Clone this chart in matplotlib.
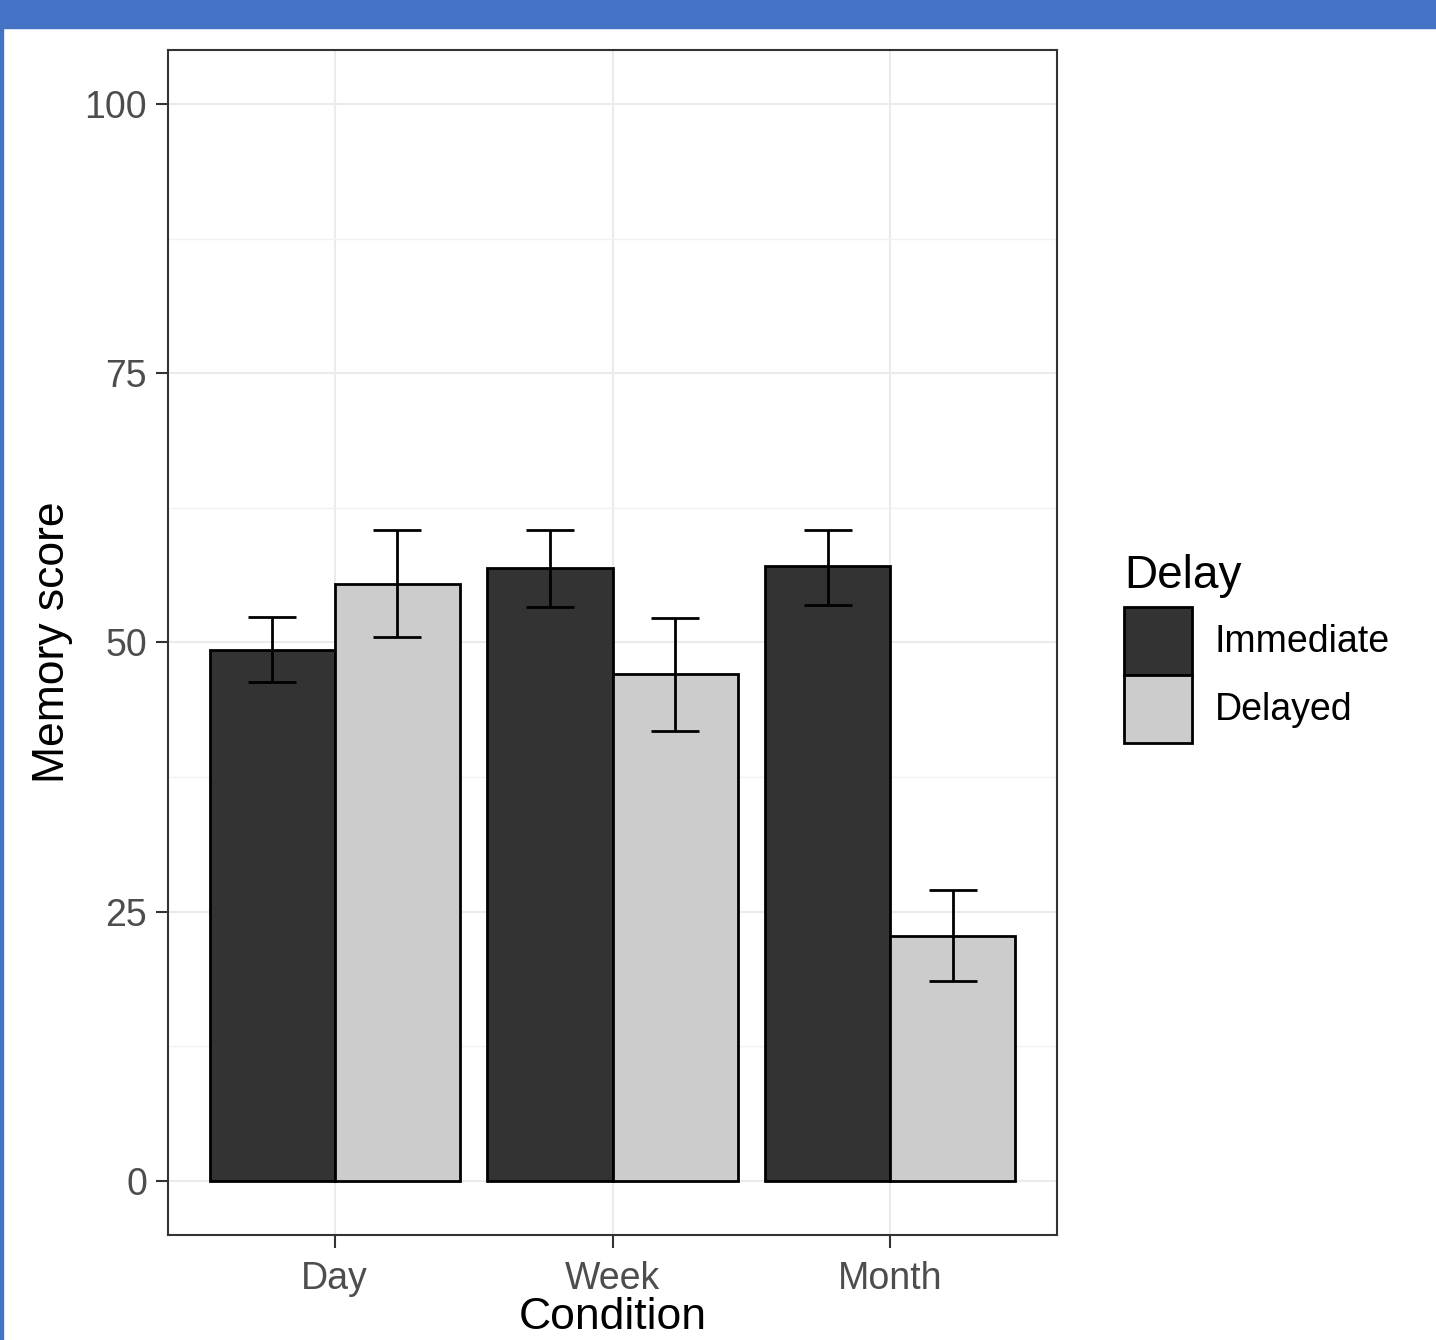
import numpy as np
import matplotlib.pyplot as plt
from matplotlib.patches import Patch

conditions = ["Day", "Week", "Month"]
groups = ["Immediate", "Delayed"]
immediate = [49.3, 56.9, 57.1]
immediate_lo = [46.3, 53.3, 53.5]
immediate_hi = [52.4, 60.4, 60.4]
delayed = [55.4, 47.1, 22.8]
delayed_lo = [50.5, 41.8, 18.6]
delayed_hi = [60.4, 52.3, 27.0]

fills = ["#333333", "#CCCCCC"]
plt.rcParams["font.family"] = ["Liberation Sans", "DejaVu Sans"]

fig = plt.figure(figsize=(14.36, 13.4), dpi=100)
fig.patch.set_facecolor("white")
# blue frame of the screenshot
fig.patches.append(plt.Rectangle((0, 1 - 28 / 1340), 1, 28 / 1340, transform=fig.transFigure,
                                 color="#4472C4", zorder=0))
fig.patches.append(plt.Rectangle((0, 0), 3 / 1436, 1, transform=fig.transFigure,
                                 color="#4472C4", zorder=0))

ax = fig.add_axes([168 / 1436, 105 / 1340, 889 / 1436, 1185 / 1340])
x = np.arange(1, len(conditions) + 1)
w = 0.45
series = [(immediate, immediate_lo, immediate_hi), (delayed, delayed_lo, delayed_hi)]
for i, (vals, lo, hi) in enumerate(series):
    pos = x - w / 2 + i * w
    ax.bar(pos, vals, width=w, color=fills[i], edgecolor="black", linewidth=2, zorder=3,
           label=groups[i])
    vals = np.array(vals)
    err = [vals - np.array(lo), np.array(hi) - vals]
    ax.errorbar(pos, vals, yerr=err, fmt="none", ecolor="black", elinewidth=2,
                capsize=17, capthick=2, zorder=4)

ax.set_xlim(0.4, 3.6)
ax.set_ylim(-5, 105)
ax.set_xticks(x)
ax.set_xticklabels(conditions)
ax.set_yticks([0, 25, 50, 75, 100])
ax.set_yticks([12.5, 37.5, 62.5, 87.5], minor=True)
ax.tick_params(axis="both", which="major", labelsize=27, labelcolor="#4D4D4D",
               color="#333333", length=9, width=1.5)
ax.tick_params(axis="x", which="major", pad=10)
ax.tick_params(axis="y", which="major", pad=6)
ax.tick_params(axis="y", which="minor", length=0)
ax.grid(which="major", color="#EBEBEB", linewidth=1.5, zorder=0)
ax.grid(which="minor", axis="y", color="#F2F2F2", linewidth=1, zorder=0)
ax.set_axisbelow(True)
for s in ax.spines.values():
    s.set_color("#333333")
    s.set_linewidth(1.5)
ax.set_xlabel("Condition", fontsize=32, labelpad=0)
ax.set_ylabel("Memory score", fontsize=32, labelpad=8)

fig.text(1124 / 1436, 1 - 588 / 1340, "Delay", fontsize=33, ha="left", va="baseline")
handles = [Patch(facecolor=fills[i], edgecolor="black", linewidth=2) for i in range(2)]
fs = 27
leg = fig.legend(handles, groups, loc="upper left",
                 bbox_to_anchor=(1124 / 1436, 1 - 607 / 1340), frameon=False,
                 fontsize=fs, handlelength=1.81, handleheight=2.41,
                 labelspacing=0, handletextpad=0.6, borderaxespad=0, borderpad=0)

fig.savefig("out.png", dpi=100, facecolor="white")
